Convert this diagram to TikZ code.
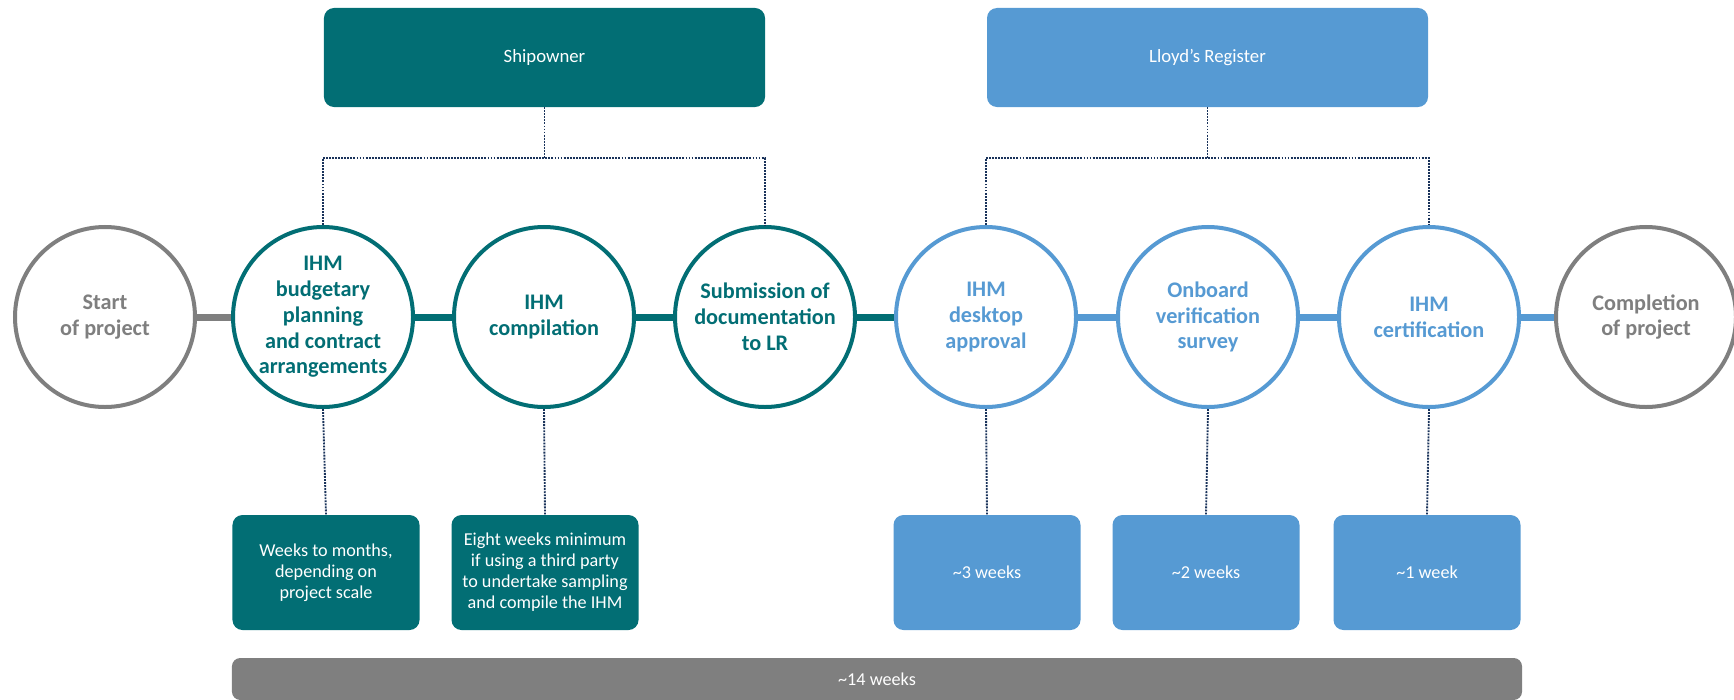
\documentclass[tikz,border=0pt]{standalone}
\usepackage{fontspec}
\setmainfont{Carlito}
\usepackage{xcolor}
\usepackage{tikz}
\usetikzlibrary{positioning,backgrounds}

\definecolor{lrteal}{RGB}{2,110,116}
\definecolor{lrblue}{RGB}{86,154,211}
\definecolor{lrgrey}{RGB}{127,127,127}
\definecolor{lrnavy}{RGB}{25,50,90}

\begin{document}
\begin{tikzpicture}[
        x=0.03cm, y=-0.03cm,
        party/.style={rectangle, rounded corners=0.3cm, minimum width=13.23cm, minimum height=2.97cm, text=white, font=\fontsize{16}{19}\selectfont},
        stage/.style={circle, line width=0.12cm, fill=white, minimum size=5.4cm, inner sep=0pt, align=center, font=\bfseries\fontsize{19}{22}\selectfont},
        lapse/.style={rectangle, rounded corners=0.3cm, minimum width=5.61cm, minimum height=3.45cm, text=white, align=center, font=\fontsize{15.5}{18}\selectfont},
        joint/.style={line width=0.21cm},
        tie/.style={densely dotted, line width=1.6pt, draw=lrnavy}
    ]
        \useasboundingbox (0,0) rectangle (1734,700);

        % Parties
        \node[party, fill=lrteal] (owner) at (544.5,57.5) {Shipowner};
        \node[party, fill=lrblue] (lr) at (1207.5,57.5) {Lloyd’s Register};

        % Stages
        \node[stage, draw=lrgrey, text=lrgrey] (start) at (105,317) {Start\\of project};
        \node[stage, draw=lrteal, text=lrteal] (budget) at (323,317) {IHM\\budgetary\\planning\\and contract\\arrangements};
        \node[stage, draw=lrteal, text=lrteal] (compile) at (544,317) {IHM\\compilation};
        \node[stage, draw=lrteal, text=lrteal] (submit) at (765,317) {Submission of\\documentation\\to LR};
        \node[stage, draw=lrblue, text=lrblue] (desktop) at (986,317) {IHM\\desktop\\approval};
        \node[stage, draw=lrblue, text=lrblue] (survey) at (1208,317) {Onboard\\verification\\survey};
        \node[stage, draw=lrblue, text=lrblue] (certify) at (1429,317) {IHM\\certification};
        \node[stage, draw=lrgrey, text=lrgrey] (finish) at (1646,317) {Completion\\of project};

        % Timeline
        \begin{scope}[on background layer]
            \draw[joint, lrgrey] (start) -- (budget);
            \draw[joint, lrteal] (budget) -- (compile);
            \draw[joint, lrteal] (compile) -- (submit);
            \draw[joint, lrteal] (submit) -- (desktop);
            \draw[joint, lrblue] (desktop) -- (survey);
            \draw[joint, lrblue] (survey) -- (certify);
            \draw[joint, lrblue] (certify) -- (finish);
        \end{scope}

        % Durations
        \node[lapse, fill=lrteal] (tbudget) at (326,572.5) {Weeks to months,\\depending on\\project scale};
        \node[lapse, fill=lrteal] (tcompile) at (545,572.5) {Eight weeks minimum\\if using a third party\\to undertake sampling\\and compile the IHM};
        \node[lapse, fill=lrblue] (tdesktop) at (987,572.5) {\textasciitilde3 weeks};
        \node[lapse, fill=lrblue] (tsurvey) at (1206,572.5) {\textasciitilde2 weeks};
        \node[lapse, fill=lrblue] (tcertify) at (1427,572.5) {\textasciitilde1 week};

        \node[rectangle, rounded corners=0.25cm, fill=lrgrey, minimum width=38.7cm, minimum height=1.26cm, text=white, font=\fontsize{15.5}{18}\selectfont] (total) at (877,679) {\textasciitilde14 weeks};

        % Dotted ties
        \coordinate (ownerbar) at (544.5,158);
        \coordinate (lrbar) at (1207.5,158);
        \draw[tie] (owner.south) -- (ownerbar);
        \draw[tie] (budget.north) |- (ownerbar) -| (submit.north);
        \draw[tie] (lr.south) -- (lrbar);
        \draw[tie] (desktop.north) |- (lrbar) -| (certify.north);
        \draw[tie] (budget.south) -- (tbudget.north);
        \draw[tie] (compile.south) -- (tcompile.north);
        \draw[tie] (desktop.south) -- (tdesktop.north);
        \draw[tie] (survey.south) -- (tsurvey.north);
        \draw[tie] (certify.south) -- (tcertify.north);
    \end{tikzpicture}
\end{document}
